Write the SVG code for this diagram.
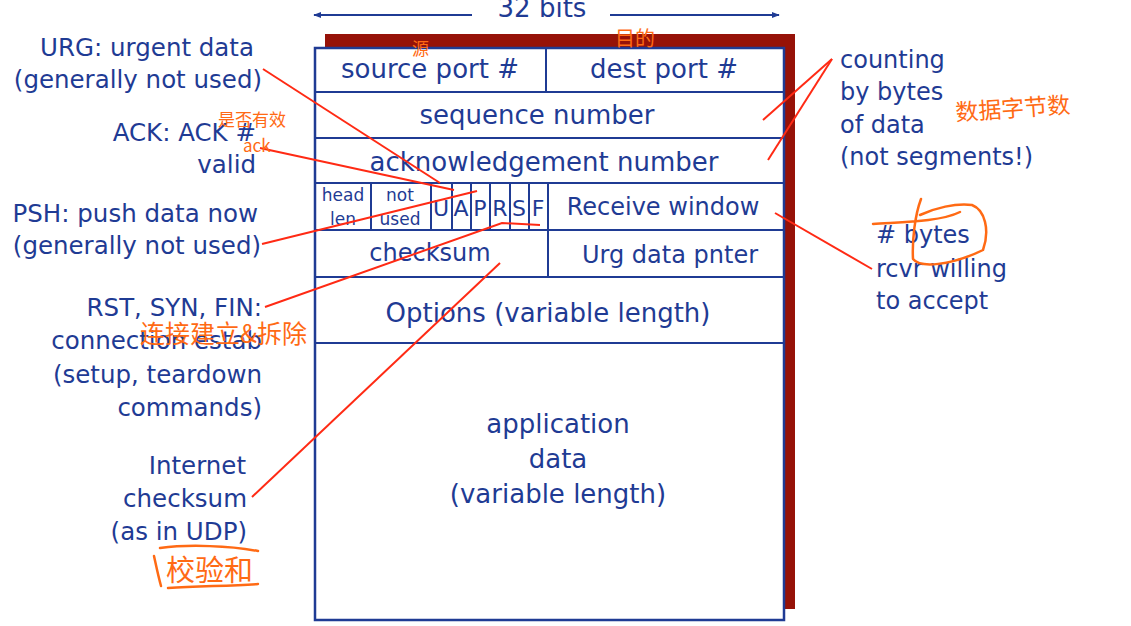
<svg xmlns="http://www.w3.org/2000/svg" width="1131" height="626" viewBox="0 0 1131 626">
<style>
  .t{font-family:"DejaVu Sans","Liberation Sans",sans-serif;fill:#1f3b94;font-size:24px}
  .b{font-size:26px}
  .s{font-size:17px}
  .c{text-anchor:middle}
  .e{text-anchor:end}
  .box{fill:#ffffff;stroke:#1f3b94;stroke-width:2.5}
  .ln{stroke:#1f3b94;stroke-width:2}
  .red{stroke:#ff2a14;stroke-width:2;fill:none}
  .hw{font-family:"Noto Sans CJK SC","Noto Sans CJK JP",sans-serif;fill:#ff6a14}
  .hs{stroke:#ff6a14;stroke-width:2.5;fill:none;stroke-linecap:round;stroke-linejoin:round}
</style>
<defs>
  <marker id="ah" viewBox="0 0 10 10" refX="9" refY="5" markerWidth="8" markerHeight="8" orient="auto-start-reverse" markerUnits="userSpaceOnUse">
    <path d="M0,1 L10,5 L0,9 z" fill="#1f3b94"/>
  </marker>
</defs>
<rect width="1131" height="626" fill="#ffffff"/>

<g id="width-label">
  <line x1="472" y1="15" x2="314" y2="15" stroke="#1f3b94" stroke-width="2" marker-end="url(#ah)"/>
  <line x1="610" y1="15" x2="779" y2="15" stroke="#1f3b94" stroke-width="2" marker-end="url(#ah)"/>
  <text class="t b c" x="542" y="17">32 bits</text>
</g>

<g id="segment">
  <rect x="325" y="34" width="470" height="575" fill="#961208"/>
  <rect x="315" y="48" width="469" height="572" class="box"/>
  <line class="ln" x1="315" y1="92" x2="784" y2="92"/>
  <line class="ln" x1="315" y1="138" x2="784" y2="138"/>
  <line class="ln" x1="315" y1="183" x2="784" y2="183"/>
  <line class="ln" x1="315" y1="230" x2="784" y2="230"/>
  <line class="ln" x1="315" y1="277" x2="784" y2="277"/>
  <line class="ln" x1="315" y1="343" x2="784" y2="343"/>
  <line class="ln" x1="546" y1="48" x2="546" y2="92"/>
  <line class="ln" x1="371" y1="183" x2="371" y2="230"/>
  <line class="ln" x1="431" y1="183" x2="431" y2="230"/>
  <line class="ln" x1="452" y1="183" x2="452" y2="230"/>
  <line class="ln" x1="471" y1="183" x2="471" y2="230"/>
  <line class="ln" x1="490" y1="183" x2="490" y2="230"/>
  <line class="ln" x1="510" y1="183" x2="510" y2="230"/>
  <line class="ln" x1="529" y1="183" x2="529" y2="230"/>
  <line class="ln" x1="548" y1="183" x2="548" y2="277"/>
</g>

<g id="fields">
  <text class="t b c" x="430" y="78">source port #</text>
  <text class="t b c" x="664" y="78">dest port #</text>
  <text class="t b c" x="537" y="124">sequence number</text>
  <text class="t b c" x="544" y="171">acknowledgement number</text>
  <text class="t s c" x="343" y="201">head</text>
  <text class="t s c" x="343" y="225">len</text>
  <text class="t s c" x="400" y="201">not</text>
  <text class="t s c" x="400" y="225">used</text>
  <text class="t c" x="441" y="216" style="font-size:22px">U</text>
  <text class="t c" x="461" y="216" style="font-size:22px">A</text>
  <text class="t c" x="480" y="216" style="font-size:22px">P</text>
  <text class="t c" x="500" y="216" style="font-size:22px">R</text>
  <text class="t c" x="519" y="216" style="font-size:22px">S</text>
  <text class="t c" x="538" y="216" style="font-size:22px">F</text>
  <text class="t c" x="663" y="215">Receive window</text>
  <text class="t c" x="430" y="261">checksum</text>
  <text class="t c" x="670" y="263">Urg data pnter</text>
  <text class="t b c" x="548" y="322">Options (variable length)</text>
  <text class="t b c" x="558" y="433">application</text>
  <text class="t b c" x="558" y="468">data</text>
  <text class="t b c" x="558" y="503">(variable length)</text>
</g>

<g id="left-notes">
  <text class="t e" x="254" y="56" style="font-size:24.5px">URG: urgent data</text>
  <text class="t e" x="262" y="88" style="font-size:24.5px">(generally not used)</text>
  <text class="t e" x="256" y="141" style="font-size:24.5px">ACK: ACK #</text>
  <text class="t e" x="256" y="173" style="font-size:24.5px">valid</text>
  <text class="t e" x="258" y="222" style="font-size:24.5px">PSH: push data now</text>
  <text class="t e" x="261" y="254" style="font-size:24.5px">(generally not used)</text>
  <text class="t e" x="262" y="316" style="font-size:24.5px">RST, SYN, FIN:</text>
  <text class="t e" x="262" y="349" style="font-size:24.5px">connection estab</text>
  <text class="t e" x="262" y="383" style="font-size:24.5px">(setup, teardown</text>
  <text class="t e" x="262" y="416" style="font-size:24.5px">commands)</text>
  <text class="t e" x="246" y="474" style="font-size:24.5px">Internet</text>
  <text class="t e" x="247" y="507" style="font-size:24.5px">checksum</text>
  <text class="t e" x="247" y="540" style="font-size:24.5px">(as in UDP)</text>
</g>

<g id="right-notes">
  <text class="t" x="840" y="68">counting</text>
  <text class="t" x="840" y="100">by bytes</text>
  <text class="t" x="840" y="133">of data</text>
  <text class="t" x="840" y="165">(not segments!)</text>
  <text class="t" x="876" y="243"># bytes</text>
  <text class="t" x="876" y="277">rcvr willing</text>
  <text class="t" x="876" y="309">to accept</text>
</g>

<g id="connectors">
  <line class="red" x1="263" y1="69" x2="440" y2="183"/>
  <line class="red" x1="260" y1="148" x2="454" y2="190"/>
  <line class="red" x1="262" y1="244" x2="477" y2="191"/>
  <polyline class="red" points="265,307 502,223 540,225"/>
  <line class="red" x1="252" y1="497" x2="500" y2="263"/>
  <line class="red" x1="832" y1="59" x2="763" y2="120"/>
  <line class="red" x1="832" y1="59" x2="768" y2="160"/>
  <line class="red" x1="775" y1="213" x2="872" y2="269"/>
</g>

<g id="annotations">
  <text class="hw" x="412" y="55" style="font-size:17px">源</text>
  <text class="hw" x="615" y="46" style="font-size:20px">目的</text>
  <text class="hw" x="218" y="126" style="font-size:17px">是否有效</text>
  <text class="hw" x="243" y="152" style="font-size:17px">ack</text>
  <text class="hw" x="955" y="117" style="font-size:23px" transform="rotate(-4 1010 105)">数据字节数</text>
  <text class="hw" x="140" y="343" style="font-size:25px">连接建立&amp;拆除</text>
  <text class="hw" x="166" y="581" style="font-size:29px">校验和</text>
  <path class="hs" d="M160,548 C190,544 230,546 258,551"/>
  <path class="hs" d="M154,556 C156,565 158,575 161,586"/>
  <path class="hs" d="M168,588 C200,586 230,586 258,584"/>
  <path class="hs" d="M873,224 C900,222 940,222 960,212 M921,199 C915,215 912,240 913,259 C920,268 950,266 983,250 C990,230 985,210 972,205 C955,203 935,208 920,215"/>
</g>
</svg>
